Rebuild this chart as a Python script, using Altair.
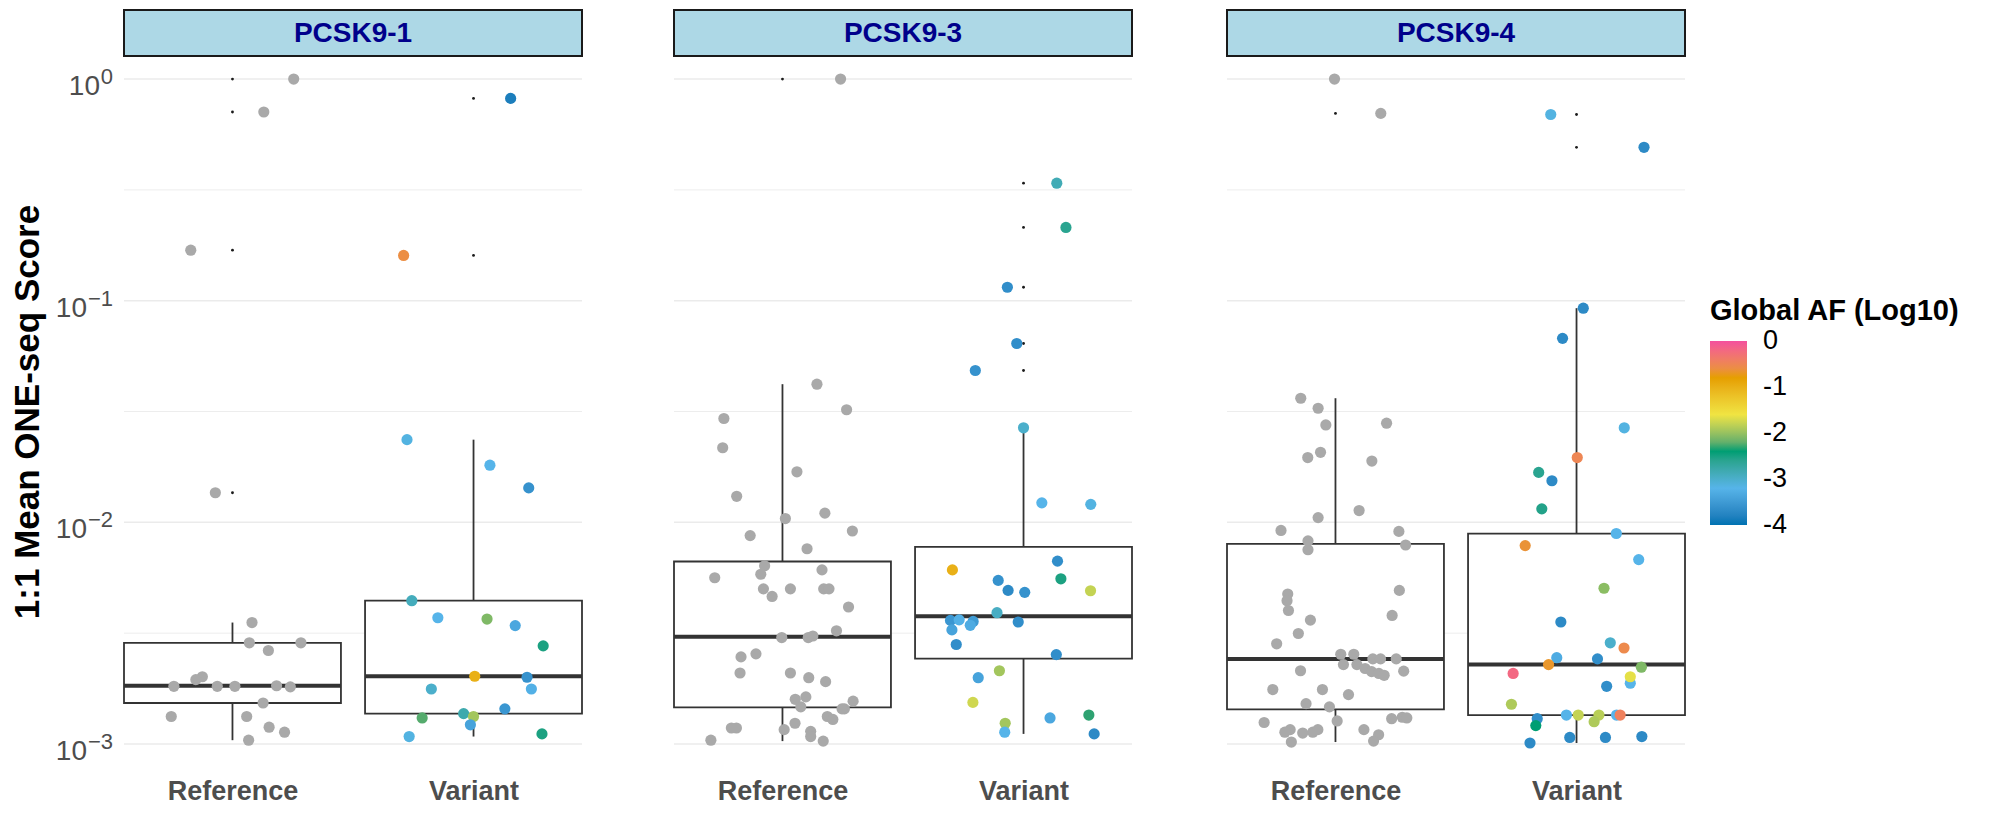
import altair as alt
import numpy as np
import pandas as pd

panel_names = ["PCSK9-1", "PCSK9-3", "PCSK9-4"]
group_names = ["Reference", "Variant"]

# ---- PCSK9-1 ----
p1_ref_score = [1.0, 0.71, 0.169, 0.0136, 0.00353, 0.00286, 0.00286, 0.00264, 0.00201, 0.00195,
                0.00182, 0.00182, 0.00182, 0.00183, 0.00181, 0.00153, 0.00133, 0.00133, 0.00119, 0.00113,
                0.00104]
p1_ref_jitter = [0.254, 0.130, -0.173, -0.071, 0.081, 0.070, 0.284, 0.149, -0.125, -0.152,
                 -0.243, -0.063, 0.010, 0.183, 0.240, 0.127, -0.254, 0.059, 0.152, 0.216,
                 0.067]
p1_var_score = [0.818, 0.160, 0.0236, 0.0181, 0.0143, 0.00443, 0.00371, 0.00366, 0.00342, 0.00277,
                0.00202, 0.0020, 0.00177, 0.00177, 0.00144, 0.00131, 0.00137, 0.00133, 0.00122, 0.00108,
                0.00111]
p1_var_jitter = [0.154, -0.29, -0.276, 0.068, 0.229, -0.256, -0.148, 0.056, 0.173, 0.289,
                 0.005, 0.222, -0.175, 0.24, 0.13, -0.213, -0.041, 0.0, -0.013, -0.267,
                 0.284]
p1_var_af = [-3.85, -0.6, -3.15, -3.2, -3.6, -2.9, -3.2, -2.1, -3.35, -2.5,
             -1.0, -3.6, -3.0, -3.25, -3.55, -2.25, -2.8, -1.95, -3.4, -3.15,
             -2.5]

# ---- PCSK9-3 ----
p2_ref_score = [1.0, 0.0420, 0.0322, 0.0294, 0.0217, 0.0169, 0.0131, 0.0104, 0.0110, 0.00871,
                0.00914, 0.0076, 0.00637, 0.00583, 0.0061, 0.00562, 0.00501, 0.00501, 0.00501, 0.00501,
                0.00463, 0.00415, 0.00324, 0.00302, 0.00302, 0.00307, 0.00255, 0.00247, 0.00209, 0.00209,
                0.00199, 0.00191, 0.00159, 0.00163, 0.00147, 0.00156, 0.00144, 0.00144, 0.00133, 0.00129,
                0.00124, 0.00118, 0.00118, 0.00116, 0.00114, 0.00108, 0.00104, 0.00103]
p2_ref_jitter = [0.241, 0.143, 0.266, -0.243, -0.248, 0.06, -0.19, 0.012, 0.176, -0.134,
                 0.29, 0.102, -0.074, -0.09, 0.164, -0.281, -0.079, 0.033, 0.171, 0.193,
                 -0.043, 0.274, 0.224, -0.003, 0.107, 0.126, -0.11, -0.172, -0.176, 0.033,
                 0.109, 0.179, 0.053, 0.097, 0.076, 0.293, 0.257, 0.247, 0.186, 0.209,
                 0.052, -0.191, -0.212, 0.007, 0.117, 0.117, -0.297, 0.169]
p2_var_score = [0.339, 0.214, 0.115, 0.0641, 0.0484, 0.0267, 0.01224, 0.01205, 0.00668, 0.0061,
                0.00556, 0.00547, 0.00491, 0.00493, 0.00483, 0.00391, 0.00355, 0.00361, 0.00363, 0.00357,
                0.00343, 0.00327, 0.00281, 0.00253, 0.00214, 0.00199, 0.00154, 0.00135, 0.00131, 0.00124,
                0.00113, 0.00111]
p2_var_jitter = [0.138, 0.176, -0.067, -0.028, -0.2, 0.0, 0.076, 0.279, 0.141, -0.295,
                 0.155, -0.105, 0.278, -0.064, 0.005, -0.11, -0.022, -0.303, -0.267, -0.209,
                 -0.221, -0.297, -0.279, 0.136, -0.1, -0.188, -0.21, 0.271, 0.11, -0.076,
                 -0.078, 0.293]
p2_var_af = [-2.85, -2.6, -3.65, -3.65, -3.6, -3.0, -3.2, -3.15, -3.65, -1.0,
             -2.5, -3.6, -1.8, -3.7, -3.6, -2.95, -3.65, -3.55, -3.25, -3.5,
             -3.3, -3.4, -3.65, -3.65, -1.95, -3.4, -1.75, -2.35, -3.35, -1.95,
             -3.2, -3.7]

# ---- PCSK9-4 ----
p3_ref_score = [1.0, 0.70, 0.0363, 0.0327, 0.0275, 0.0280, 0.0207, 0.0196, 0.0189, 0.0113,
                0.0105, 0.00919, 0.0091, 0.00825, 0.00752, 0.0079, 0.00475, 0.00443, 0.00493, 0.004,
                0.0038, 0.00362, 0.00315, 0.00283, 0.00254, 0.00254, 0.00242, 0.00242, 0.00242, 0.00228,
                0.00228, 0.00219, 0.00212, 0.00208, 0.00204, 0.00214, 0.00213, 0.00176, 0.00176, 0.00167,
                0.00152, 0.00147, 0.00125, 0.00127, 0.0013, 0.00132, 0.00131, 0.00116, 0.00113, 0.00112,
                0.00113, 0.00116, 0.00116, 0.0011, 0.00103, 0.00102]
p3_ref_jitter = [-0.004, 0.188, -0.144, -0.072, -0.04, 0.212, -0.062, -0.115, 0.151, 0.098,
                 -0.072, -0.226, 0.263, -0.114, -0.114, 0.291, -0.198, -0.201, 0.265, -0.195,
                 0.235, -0.104, -0.154, -0.244, 0.022, 0.076, 0.155, 0.187, 0.252, 0.033,
                 0.089, 0.123, 0.15, 0.18, 0.202, -0.145, 0.283, -0.26, -0.054, 0.054,
                 -0.122, -0.025, -0.296, 0.007, 0.233, 0.277, 0.296, -0.188, -0.21, -0.136,
                 -0.094, -0.073, 0.118, 0.179, 0.158, -0.183]
p3_var_score = [0.692, 0.492, 0.0925, 0.0676, 0.0267, 0.0196, 0.0168, 0.0154, 0.0115, 0.0089,
                0.00785, 0.00679, 0.00504, 0.00355, 0.00286, 0.00271, 0.00245, 0.00242, 0.00228, 0.00222,
                0.00208, 0.00188, 0.00201, 0.00182, 0.00151, 0.0013, 0.00121, 0.00135, 0.00135, 0.00135,
                0.00126, 0.00135, 0.00135, 0.00101, 0.00107, 0.00107, 0.00108]
p3_var_jitter = [-0.107, 0.28, 0.028, -0.058, 0.198, 0.003, -0.157, -0.102, -0.144, 0.165,
                 -0.213, 0.258, 0.114, -0.065, 0.14, 0.197, -0.082, 0.087, -0.116, 0.269,
                 -0.263, 0.223, 0.223, 0.125, -0.27, -0.163, -0.169, -0.042, 0.007, 0.093,
                 0.073, 0.166, 0.181, -0.193, -0.028, 0.12, 0.271]
p3_var_af = [-3.15, -3.7, -3.7, -3.7, -3.15, -0.5, -2.6, -3.7, -2.55, -3.2,
             -0.65, -3.2, -2.05, -3.7, -3.0, -0.55, -3.3, -3.65, -0.7, -2.1,
             -0.2, -3.2, -1.65, -3.65, -1.9, -3.65, -2.4, -3.2, -1.8, -1.85,
             -1.9, -3.2, -0.45, -3.7, -3.7, -3.7, -3.7]

panels = [
    (p1_ref_score, p1_ref_jitter, p1_var_score, p1_var_jitter, p1_var_af),
    (p2_ref_score, p2_ref_jitter, p2_var_score, p2_var_jitter, p2_var_af),
    (p3_ref_score, p3_ref_jitter, p3_var_score, p3_var_jitter, p3_var_af),
]

grid_major = [1.0, 0.1, 0.01, 0.001]
grid_minor = [10 ** -0.5, 10 ** -1.5, 10 ** -2.5]
# legend tick positions (labels rounded to 0, -1, ..., -4)
af_ticks = [-0.01, -1, -2, -3, -3.99]
af_stops = [-4, -3.2, -2.4, -1.6, -0.8, 0]
af_colors = ["#0072B2", "#56B4E9", "#009E73", "#F0E442", "#E69F00", "#F4509E"]

W, H, SH = 458, 711, 46
FONT = "Liberation Sans"
TXT = "#4D4D4D"

xscale = alt.Scale(domain=[0.55, 2.45], nice=False, zero=False)
yscale = alt.Scale(type="log", domain=[10 ** -3.104, 10 ** 0.104], nice=False)
cscale = alt.Scale(domain=af_stops, range=af_colors, interpolate="lab")


def box_stats(vals, gx):
    lv = np.log10(np.array(vals, dtype=float))
    q1, med, q3 = np.quantile(lv, [0.25, 0.5, 0.75])
    iqr = q3 - q1
    lo_f, hi_f = q1 - 1.5 * iqr, q3 + 1.5 * iqr
    inside = lv[(lv >= lo_f) & (lv <= hi_f)]
    outl = lv[(lv < lo_f) | (lv > hi_f)]
    stats = dict(gx=gx, lo=gx - 0.45, hi=gx + 0.45, q1=10 ** q1, med=10 ** med, q3=10 ** q3,
                 wlo=10 ** inside.min(), whi=10 ** inside.max())
    return stats, [dict(gx=gx, v=10 ** o) for o in outl]


def make_panel(idx):
    ref_s, ref_j, var_s, var_j, var_af = panels[idx]
    name = panel_names[idx]
    st1, o1 = box_stats(ref_s, 1)
    st2, o2 = box_stats(var_s, 2)
    stats = pd.DataFrame([st1, st2])
    outl = pd.DataFrame(o1 + o2)
    ref = pd.DataFrame({"score": ref_s, "xj": [1 + j for j in ref_j]})
    var = pd.DataFrame({"score": var_s, "xj": [2 + j for j in var_j], "af": var_af})
    grid = pd.DataFrame({"v": grid_major + grid_minor,
                         "w": [1.6] * len(grid_major) + [0.9] * len(grid_minor)})

    if idx == 0:
        yaxis = alt.Axis(labels=False, title="1:1 Mean ONE-seq Score", titleFontSize=35,
                         titleFontWeight="bold", titleColor="black", titlePadding=79,
                         titleFont=FONT, grid=False, ticks=False, domain=False)
    else:
        yaxis = None

    xaxis = alt.Axis(values=[1, 2], labelExpr="datum.value == 1 ? 'Reference' : 'Variant'",
                     title=None, grid=False, ticks=False, domain=False, labelFontSize=27,
                     labelFontWeight="bold", labelColor=TXT, labelPadding=11, labelFont=FONT)

    def X(f):
        return alt.X(f, scale=xscale, axis=xaxis)

    def Y(f):
        return alt.Y(f, scale=yscale, axis=yaxis)

    g = alt.Chart(grid).mark_rule(color="#EBEBEB").encode(
        y=Y("v:Q"),
        x=alt.value(0), x2=alt.value(W),
        strokeWidth=alt.StrokeWidth("w:Q", scale=None),
    )
    label_df = pd.DataFrame({"name": [name]})
    strip = alt.Chart(label_df).mark_rect(fill="#ADD8E6", stroke="#1A1A1A", strokeWidth=2).encode(
        x=alt.value(0), x2=alt.value(W), y=alt.value(-SH), y2=alt.value(0)
    )
    strip_text = alt.Chart(label_df).mark_text(fontSize=28, fontWeight="bold", color="#00008B",
                                               font=FONT, align="center", baseline="middle").encode(
        x=alt.value(W / 2), y=alt.value(-SH / 2 + 1), text="name:N"
    )
    whisk_lo = alt.Chart(stats).mark_rule(color="#333333", strokeWidth=1.8).encode(
        x=X("gx:Q"), y=Y("wlo:Q"), y2="q1:Q")
    whisk_hi = alt.Chart(stats).mark_rule(color="#333333", strokeWidth=1.8).encode(
        x=X("gx:Q"), y=Y("q3:Q"), y2="whi:Q")
    box = alt.Chart(stats).mark_rect(fill="white", stroke="#333333", strokeWidth=1.8).encode(
        x=X("lo:Q"), x2="hi:Q", y=Y("q1:Q"), y2="q3:Q")
    median = alt.Chart(stats).mark_rule(color="#333333", strokeWidth=4).encode(
        x=X("lo:Q"), x2="hi:Q", y=Y("med:Q"))
    out = alt.Chart(outl).mark_circle(size=8, color="#1A1A1A", opacity=1).encode(
        x=X("gx:Q"), y=Y("v:Q"))
    ref_pts = alt.Chart(ref).mark_circle(size=125, color="#A9A9A9", opacity=1).encode(
        x=X("xj:Q"), y=Y("score:Q"))
    var_pts = alt.Chart(var).mark_circle(size=125, opacity=1).encode(
        x=X("xj:Q"), y=Y("score:Q"),
        color=alt.Color("af:Q", scale=cscale, legend=alt.Legend(
            title="Global AF (Log10)", orient="none", legendX=1586, legendY=241,
            direction="vertical", gradientLength=184, gradientThickness=37,
            values=af_ticks, titleFontSize=29, titleFontWeight="bold", titleColor="black",
            titleFont=FONT, labelFont=FONT, labelFontSize=27, labelColor="black",
            labelExpr="'' + round(datum.value)", titleLimit=500,
            labelOffset=16, titlePadding=15, gradientStrokeWidth=0)))
    layers = [g, strip, strip_text, whisk_lo, whisk_hi, box, median, out, ref_pts, var_pts]

    if idx == 0:
        ticks_df = pd.DataFrame({"v": grid_major})
        base0 = alt.Chart(ticks_df).transform_filter("datum.v > 0.5").mark_text(
            text="10", align="right", baseline="alphabetic", fontSize=28, color=TXT, font=FONT, dy=16
        ).encode(x=alt.value(-24), y=Y("v:Q"))
        base_n = alt.Chart(ticks_df).transform_filter("datum.v < 0.5").mark_text(
            text="10", align="right", baseline="alphabetic", fontSize=28, color=TXT, font=FONT, dy=16
        ).encode(x=alt.value(-37), y=Y("v:Q"))
        expo = alt.Chart(ticks_df).transform_calculate(
            e="round(log(datum.v) / LN10)"
        ).transform_calculate(
            lab="datum.e == 0 ? '0' : '\u2212' + abs(datum.e)"
        ).mark_text(align="right", baseline="alphabetic", fontSize=22, color=TXT, font=FONT, dy=5
                    ).encode(x=alt.value(-11), y=Y("v:Q"), text="lab:N")
        layers += [base0, base_n, expo]

    return alt.layer(*layers).properties(width=W, height=H)


chart = alt.hconcat(
    alt.hconcat(make_panel(0), make_panel(1), spacing=88),
    make_panel(2), spacing=91
).properties(
    padding={"left": 2, "top": 1, "right": 5, "bottom": 5}, background="white"
).configure(font=FONT).configure_view(stroke=None)

chart.save("out.html", embed_options={"renderer": "svg", "actions": False})
